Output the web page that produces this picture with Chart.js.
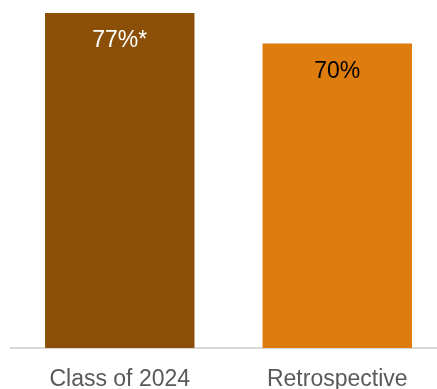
<!DOCTYPE html>
<html>
<head>
<meta charset="utf-8">
<script src="https://cdn.jsdelivr.net/npm/chart.js@4"></script>
<style>
  html, body { margin: 0; padding: 0; background: #fff; overflow: hidden; }
  #wrap { width: 446px; height: 389px; }
</style>
</head>
<body>
<div id="wrap"><canvas id="graph" width="446" height="389"></canvas></div>
<script>
const categories = ['Class of 2024', 'Retrospective'];
const values = [77, 70];
const valueLabels = ['77%*', '70%'];
const barColors = ['#8B4F07', '#DE7C0E'];
const labelColors = ['#ffffff', '#000000'];

// write the value text inside the top of each bar
const barLabels = {
  id: 'barLabels',
  afterDatasetsDraw(chart) {
    const ctx = chart.ctx;
    const meta = chart.getDatasetMeta(0);
    ctx.save();
    ctx.font = '23px "Liberation Sans", Arial, sans-serif';
    ctx.textAlign = 'center';
    ctx.textBaseline = 'middle';
    meta.data.forEach((bar, i) => {
      ctx.fillStyle = labelColors[i];
      ctx.fillText(valueLabels[i], bar.x, bar.y + 28);
    });
    ctx.restore();
  }
};

const config = {
  type: 'bar',
  data: {
    labels: categories,
    datasets: [{
      data: values,
      backgroundColor: barColors,
      categoryPercentage: 1,
      barPercentage: 0.687
    }]
  },
  options: {
    responsive: false,
    animation: false,
    layout: { padding: { left: 11, right: 0, top: 0, bottom: 0 } },
    plugins: {
      legend: { display: false },
      tooltip: { enabled: false }
    },
    scales: {
      x: {
        grid: { display: false, drawTicks: false, tickLength: 0 },
        border: { display: true, color: '#d9d9d9', width: 2 },
        ticks: {
          color: '#595959',
          padding: 18,
          maxRotation: 0,
          font: { family: '"Liberation Sans", Arial, sans-serif', size: 23 }
        },
        afterFit(scale) {
          scale.height = 41;
        }
      },
      y: {
        display: false,
        min: 0,
        max: 80
      }
    }
  },
  plugins: [barLabels]
};

// render chart
const myChart = new Chart(document.getElementById('graph'), config);
</script>
</body>
</html>
